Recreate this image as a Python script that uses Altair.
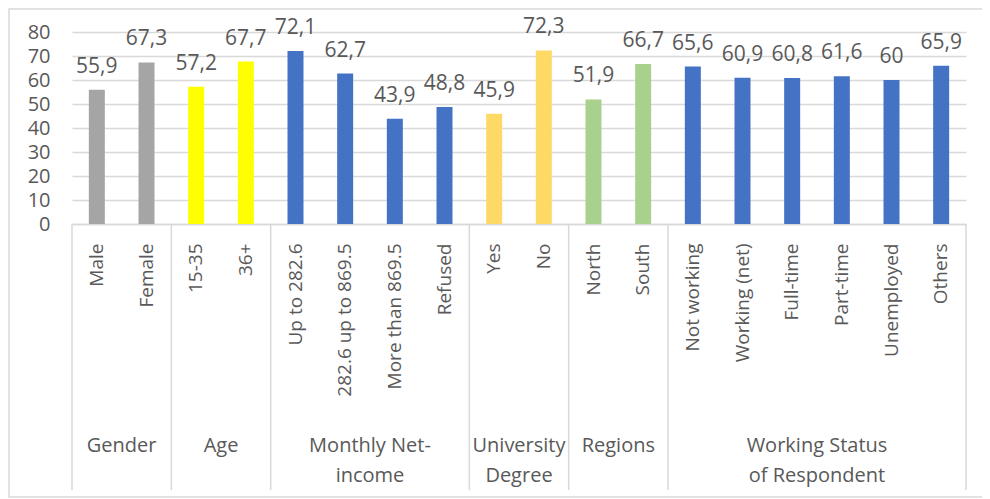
import altair as alt
import pandas as pd

groups = ["Gender", "Age", "Monthly Net-\nincome", "University\nDegree", "Regions",
          "Working Status\nof Respondent"]
group_sizes = [2, 2, 4, 2, 2, 6]
group_colors = ["#A5A5A5", "#FFFF00", "#4472C4", "#FFD966", "#A9D18E", "#4472C4"]

categories = ["Male", "Female", "15-35", "36+", "Up to 282.6", "282.6 up to 869.5",
              "More than 869.5", "Refused", "Yes", "No", "North", "South",
              "Not working", "Working (net)", "Full-time", "Part-time", "Unemployed", "Others"]
values = [55.9, 67.3, 57.2, 67.7, 72.1, 62.7, 43.9, 48.8, 45.9, 72.3, 51.9, 66.7,
          65.6, 60.9, 60.8, 61.6, 60.0, 65.9]
y_ticks = [0, 10, 20, 30, 40, 50, 60, 70, 80]

TXT = "#595959"
GRID = "#D9D9D9"
FONT = "Open Sans"

# build tables
cat_group = []
for g, n in zip(groups, group_sizes):
    cat_group += [g] * n
df = pd.DataFrame({
    "category": categories,
    "value": values,
    "group": cat_group,
    "label": [f"{v:g}".replace(".", ",") for v in values],
})

bounds = [0]
for n in group_sizes:
    bounds.append(bounds[-1] + n)
bdf = pd.DataFrame({"b": bounds})
gdf = pd.DataFrame({
    "name": groups,
    "center": [(bounds[i] + bounds[i + 1]) / 2 for i in range(len(groups))],
})
ncat = len(categories)

band = alt.Scale(paddingInner=0, paddingOuter=0)
xband = alt.X("category:N", sort=categories, scale=band,
              axis=alt.Axis(title=None, labelAngle=-90, labelFontSize=19, labelColor=TXT,
                            labelFont=FONT, ticks=False, tickSize=0, labelPadding=19,
                            domainColor=GRID, domainWidth=1.5, labelLimit=300,
                            labelOverlap=False))
yaxis = alt.Axis(title=None, values=y_ticks, tickCount=9, labelFontSize=20, labelColor=TXT,
                 labelFont=FONT, domain=False, ticks=False, tickSize=0,
                 labelPadding=22, gridColor=GRID, gridWidth=1.5,
                 labelOverlap=False)
yscale = alt.Scale(domain=[0, 80], nice=False)

bars = alt.Chart(df).mark_bar(width=16).encode(
    x=xband,
    y=alt.Y("value:Q", scale=yscale, axis=yaxis),
    color=alt.Color("group:N", scale=alt.Scale(domain=groups, range=group_colors), legend=None),
)
labels = alt.Chart(df).mark_text(dy=-17, baseline="alphabetic", fontSize=21, font=FONT,
                                 color=TXT).encode(
    x=alt.X("category:N", sort=categories, scale=band, axis=None),
    y=alt.Y("value:Q", scale=yscale, axis=yaxis),
    text="label:N")

qscale = alt.Scale(domain=[0, ncat], nice=False, zero=False)
seps = alt.Chart(bdf).mark_rule(color=GRID, strokeWidth=1.5).encode(
    x=alt.X("b:Q", scale=qscale, axis=None),
    y=alt.value(192), y2=alt.value(458))
glabels = alt.Chart(gdf).mark_text(lineBreak="\n", baseline="alphabetic", lineHeight=30,
                                   fontSize=20, font=FONT, color=TXT).encode(
    x=alt.X("center:Q", scale=qscale, axis=None),
    y=alt.value(420), text="name:N")
border = alt.Chart(pd.DataFrame({"d": [0]})).mark_rect(
    fillOpacity=0, stroke=GRID, strokeWidth=1.5).encode(
    x=alt.value(-63), x2=alt.value(916), y=alt.value(-23), y2=alt.value(465))

chart = alt.layer(bars, labels, seps, glabels, border).resolve_scale(x="independent").properties(
    width=894, height=192,
    autosize=alt.AutoSizeParams(type="none"),
    padding={"left": 64, "top": 24, "right": 16, "bottom": 275},
    background="white",
).configure_view(strokeWidth=0)

chart.save("out.html", embed_options={"renderer": "svg", "actions": False})
